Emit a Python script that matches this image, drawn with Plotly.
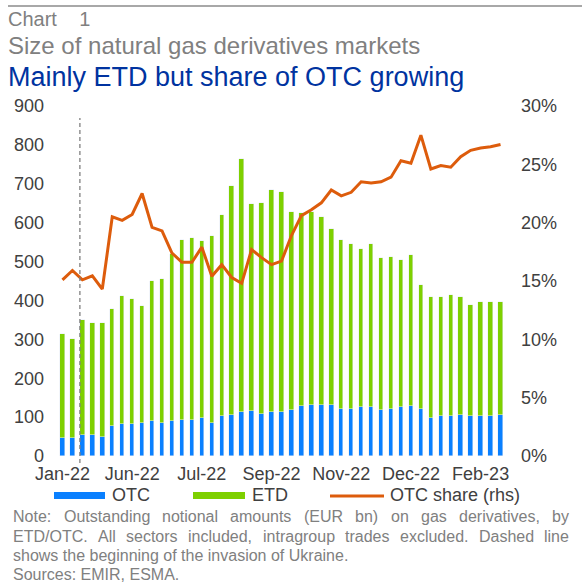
import plotly.graph_objects as go

# ---------------- data ----------------
otc = [47, 47, 54, 54, 50, 76, 83, 83, 86, 89, 86, 89, 93, 93, 99,
       86, 103, 105, 112, 116, 109, 112, 112, 119, 129, 132, 132, 132, 122, 122,
       125, 125, 118, 122, 125, 129, 122, 99, 102, 102, 105, 102, 102, 102, 105]
etd = [266, 255, 295, 288, 292, 302, 328, 322, 299, 362, 368, 430, 462, 467, 454,
       480, 516, 589, 651, 532, 542, 572, 566, 509, 496, 496, 483, 451, 434, 424,
       408, 421, 392, 391, 378, 388, 319, 309, 306, 313, 303, 286, 293, 293, 290]
otc_share_pct = [15.1, 15.9, 15.1, 15.45, 14.3, 20.5, 20.2, 20.7, 22.5, 19.6,
                 19.3, 17.4, 16.6, 16.6, 17.9, 15.4, 16.4, 15.3, 14.8, 17.7,
                 17.0, 16.4, 16.7, 18.9, 20.6, 21.1, 21.7, 22.8, 22.3, 22.6,
                 23.5, 23.4, 23.5, 23.9, 25.3, 25.1, 27.5, 24.6, 24.9, 24.75,
                 25.65, 26.2, 26.4, 26.5, 26.7]
periods = list(range(len(otc)))
tick_positions = [0, 7, 14, 21, 28, 35, 42]
tick_labels = ["Jan-22", "Jun-22", "Jul-22", "Sep-22", "Nov-22", "Dec-22", "Feb-23"]
invasion_position = 1.75
share_frac = [v / 100 for v in otc_share_pct]

# ---------------- style ----------------
W, H = 582, 585
L, R, T, B = 55, 74, 106, 129
PW, PH = W - L - R, H - T - B
FONT = "Liberation Sans, Arial, sans-serif"
BLUE, GREEN, ORANGE = "#0A80FF", "#7ED000", "#DD5C0C"
GREY_TXT = "#808080"
TICK_TXT = "#404040"


def px(x):
    return (x - L) / PW


def py(y):
    return (H - B - y) / PH


fig = go.Figure()
fig.add_trace(go.Bar(x=periods, y=otc, name="OTC", marker_color=BLUE,
                     width=0.45, showlegend=False))
fig.add_trace(go.Bar(x=periods, y=etd, name="ETD", marker_color=GREEN,
                     width=0.45, showlegend=False))
fig.add_trace(go.Scatter(x=periods, y=share_frac, name="OTC share (rhs)",
                         mode="lines", line=dict(color=ORANGE, width=3),
                         yaxis="y2", showlegend=False))

fig.update_layout(
    width=W, height=H,
    margin=dict(l=L, r=R, t=T, b=B, autoexpand=False),
    paper_bgcolor="white", plot_bgcolor="white",
    barmode="stack", bargap=0,
    font=dict(family=FONT, color=TICK_TXT, size=18),
    xaxis=dict(range=[-0.75, len(otc) - 0.25], tickvals=tick_positions,
               ticktext=tick_labels, showgrid=False, zeroline=False,
               showline=False, ticks="", ticklabelstandoff=5,
               tickfont=dict(size=18, color=TICK_TXT)),
    yaxis=dict(range=[0, 900], dtick=100, showgrid=False, zeroline=False,
               showline=False, ticks="", ticklabelstandoff=10,
               tickfont=dict(size=18, color=TICK_TXT)),
    yaxis2=dict(range=[0, 0.30], dtick=0.05, tickformat=".0%", overlaying="y",
                side="right", showgrid=False, zeroline=False, showline=False,
                ticks="", ticklabelstandoff=12,
                tickfont=dict(size=18, color=TICK_TXT)),
)

shapes = []
# top rule
shapes.append(dict(type="line", xref="paper", yref="paper", x0=px(8), x1=px(582),
                   y0=py(6), y1=py(6), line=dict(color="#A8A8A8", width=2)))
# invasion dashed line
shapes.append(dict(type="line", xref="x", yref="paper", x0=invasion_position,
                   x1=invasion_position, y0=py(463), y1=py(118),
                   line=dict(color="#808080", width=1.3, dash="4px,3px")))
# legend keys
shapes.append(dict(type="rect", xref="paper", yref="paper", x0=px(54), x1=px(105),
                   y0=py(492), y1=py(499), fillcolor=BLUE, line=dict(width=0)))
shapes.append(dict(type="rect", xref="paper", yref="paper", x0=px(193), x1=px(245),
                   y0=py(492), y1=py(499), fillcolor=GREEN, line=dict(width=0)))
shapes.append(dict(type="line", xref="paper", yref="paper", x0=px(330), x1=px(384),
                   y0=py(496), y1=py(496), line=dict(color=ORANGE, width=3)))

ann = []


def text(x, y, s, size, color, anchor="left"):
    ann.append(dict(xref="paper", yref="paper", x=px(x), y=py(y), text=s,
                    showarrow=False, xanchor=anchor, yanchor="middle",
                    font=dict(family=FONT, size=size, color=color)))


text(6, 19, "Chart\u00a0\u00a0\u00a0\u00a01", 20, GREY_TXT)
text(6, 46, "Size of natural gas derivatives markets", 24, GREY_TXT)
text(6, 77, "Mainly ETD but share of OTC growing", 27, "#0033A0")

text(110, 495, "OTC", 18, TICK_TXT)
text(250, 495, "ETD", 18, TICK_TXT)
text(388, 495, "OTC share (rhs)", 18, TICK_TXT)

# Arial-like width table (per 1000 em)
CW = {}
for c in "abdeghnopqu0123456789":
    CW[c] = 556
for c in "ckstvxyzJ":
    CW[c] = 500
for c in "fijlt":
    CW[c] = 278 if c in "ft" else 222
CW.update({"m": 833, "r": 333, "w": 722, " ": 278, ".": 278, ",": 278, ":": 278,
           "(": 333, ")": 333, "/": 278, "-": 333})
for c in "ABEKPSVXY":
    CW[c] = 667
for c in "CDHNRU":
    CW[c] = 722
CW.update({"F": 611, "T": 611, "Z": 611, "G": 778, "O": 778, "Q": 778, "I": 278,
           "L": 556, "M": 833, "W": 944})


def tw(s, size):
    return sum(CW.get(c, 556) for c in s) * size / 1000


NOTE_SIZE = 16
note_lines = [
    ("Note: Outstanding notional amounts (EUR bn) on gas derivatives, by", True),
    ("ETD/OTC. All sectors included, intragroup trades excluded. Dashed line", True),
    ("shows the beginning of the invasion of Ukraine.", False),
    ("Sources: EMIR, ESMA.", False),
]
note_y = [516, 536, 555, 574]
left_x, right_x = 11, 567
for (line, justify), yy in zip(note_lines, note_y):
    if not justify:
        text(left_x, yy, line, NOTE_SIZE, GREY_TXT)
        continue
    words = line.split(" ")
    widths = [tw(w, NOTE_SIZE) for w in words]
    gap = (right_x - left_x - sum(widths)) / (len(words) - 1)
    xx = left_x
    for w, wd in zip(words, widths):
        text(xx, yy, w, NOTE_SIZE, GREY_TXT)
        xx += wd + gap

fig.update_layout(shapes=shapes, annotations=ann)
fig.write_html(
    "out.html",
    config={"displayModeBar": False},
    post_script="document.body.style.margin='0';document.body.style.padding='0';",
)
